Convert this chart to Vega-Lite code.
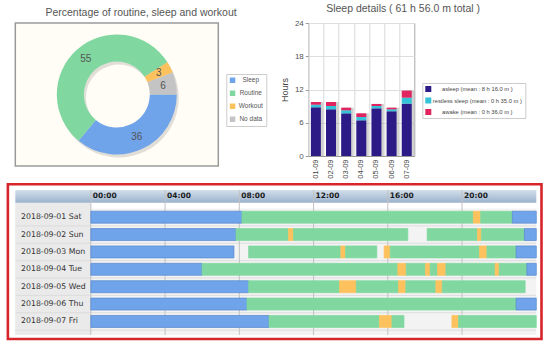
{
  "$schema": "https://vega.github.io/schema/vega-lite/v6.json",
  "background": "#ffffff",
  "padding": {"left": 6.3, "top": 3, "right": 4, "bottom": 2},
  "bounds": "flush",
  "spacing": 293,
  "config": {"view": {"stroke": null}, "font": "Liberation Sans"},
  "resolve": {"scale": {"color": "independent", "x": "independent", "y": "independent"}, "legend": {"color": "independent"}},
  "datasets": {
    "donut": [
      {"cat": "Sleep", "pct": 36, "o": 1},
      {"cat": "Routine", "pct": 55, "o": 2},
      {"cat": "Workout", "pct": 3, "o": 3},
      {"cat": "No data", "pct": 6, "o": 4}
    ],
    "sleep": [
      {"date": "01-09", "stage": "asleep", "o": 1, "hrs": 8.79},
      {"date": "01-09", "stage": "restless sleep", "o": 2, "hrs": 0.47},
      {"date": "01-09", "stage": "awake", "o": 3, "hrs": 0.49},
      {"date": "02-09", "stage": "asleep", "o": 1, "hrs": 8.43},
      {"date": "02-09", "stage": "restless sleep", "o": 2, "hrs": 0.59},
      {"date": "02-09", "stage": "awake", "o": 3, "hrs": 0.73},
      {"date": "03-09", "stage": "asleep", "o": 1, "hrs": 7.70},
      {"date": "03-09", "stage": "restless sleep", "o": 2, "hrs": 0.55},
      {"date": "03-09", "stage": "awake", "o": 3, "hrs": 0.47},
      {"date": "04-09", "stage": "asleep", "o": 1, "hrs": 6.44},
      {"date": "04-09", "stage": "restless sleep", "o": 2, "hrs": 0.60},
      {"date": "04-09", "stage": "awake", "o": 3, "hrs": 0.66},
      {"date": "05-09", "stage": "asleep", "o": 1, "hrs": 8.60},
      {"date": "05-09", "stage": "restless sleep", "o": 2, "hrs": 0.42},
      {"date": "05-09", "stage": "awake", "o": 3, "hrs": 0.37},
      {"date": "06-09", "stage": "asleep", "o": 1, "hrs": 8.07},
      {"date": "06-09", "stage": "restless sleep", "o": 2, "hrs": 0.36},
      {"date": "06-09", "stage": "awake", "o": 3, "hrs": 0.29},
      {"date": "07-09", "stage": "asleep", "o": 1, "hrs": 9.44},
      {"date": "07-09", "stage": "restless sleep", "o": 2, "hrs": 1.09},
      {"date": "07-09", "stage": "awake", "o": 3, "hrs": 1.27}
    ],
    "days": [
      {"d": 1, "day": "2018-09-01 Sat"},
      {"d": 2, "day": "2018-09-02 Sun"},
      {"d": 3, "day": "2018-09-03 Mon"},
      {"d": 4, "day": "2018-09-04 Tue"},
      {"d": 5, "day": "2018-09-05 Wed"},
      {"d": 6, "day": "2018-09-06 Thu"},
      {"d": 7, "day": "2018-09-07 Fri"}
    ],
    "hours": [
      {"h": 0, "lab": "00:00"},
      {"h": 4, "lab": "04:00"},
      {"h": 8, "lab": "08:00"},
      {"h": 12, "lab": "12:00"},
      {"h": 16, "lab": "16:00"},
      {"h": 20, "lab": "20:00"}
    ],
    "segs": [
      {"d": 1, "s": 0, "e": 8.14, "act": "Sleep"},
      {"d": 1, "s": 8.14, "e": 20.61, "act": "Routine"},
      {"d": 1, "s": 20.61, "e": 21.0, "act": "Workout"},
      {"d": 1, "s": 21.0, "e": 22.71, "act": "Routine"},
      {"d": 1, "s": 22.71, "e": 24, "act": "Sleep"},
      {"d": 2, "s": 0, "e": 7.82, "act": "Sleep"},
      {"d": 2, "s": 7.82, "e": 10.65, "act": "Routine"},
      {"d": 2, "s": 10.65, "e": 10.92, "act": "Workout"},
      {"d": 2, "s": 10.92, "e": 17.08, "act": "Routine"},
      {"d": 2, "s": 18.12, "e": 20.83, "act": "Routine"},
      {"d": 2, "s": 20.83, "e": 21.04, "act": "Workout"},
      {"d": 2, "s": 21.04, "e": 23.36, "act": "Routine"},
      {"d": 2, "s": 23.36, "e": 24, "act": "Sleep"},
      {"d": 3, "s": 0, "e": 7.71, "act": "Sleep"},
      {"d": 3, "s": 8.5, "e": 13.47, "act": "Routine"},
      {"d": 3, "s": 13.47, "e": 13.72, "act": "Workout"},
      {"d": 3, "s": 13.72, "e": 15.41, "act": "Routine"},
      {"d": 3, "s": 15.8, "e": 16.13, "act": "Workout"},
      {"d": 3, "s": 16.13, "e": 20.94, "act": "Routine"},
      {"d": 3, "s": 20.94, "e": 21.34, "act": "Workout"},
      {"d": 3, "s": 21.34, "e": 22.91, "act": "Routine"},
      {"d": 3, "s": 22.91, "e": 24, "act": "Sleep"},
      {"d": 4, "s": 0, "e": 5.99, "act": "Sleep"},
      {"d": 4, "s": 5.99, "e": 16.54, "act": "Routine"},
      {"d": 4, "s": 16.54, "e": 16.99, "act": "Workout"},
      {"d": 4, "s": 16.99, "e": 18.03, "act": "Routine"},
      {"d": 4, "s": 18.03, "e": 18.28, "act": "Workout"},
      {"d": 4, "s": 18.28, "e": 18.68, "act": "Routine"},
      {"d": 4, "s": 18.68, "e": 19.13, "act": "Workout"},
      {"d": 4, "s": 19.13, "e": 21.78, "act": "Routine"},
      {"d": 4, "s": 21.78, "e": 22.0, "act": "Workout"},
      {"d": 4, "s": 22.0, "e": 23.49, "act": "Routine"},
      {"d": 4, "s": 23.49, "e": 24, "act": "Sleep"},
      {"d": 5, "s": 0, "e": 8.5, "act": "Sleep"},
      {"d": 5, "s": 8.5, "e": 13.4, "act": "Routine"},
      {"d": 5, "s": 13.4, "e": 14.3, "act": "Workout"},
      {"d": 5, "s": 14.3, "e": 16.58, "act": "Routine"},
      {"d": 5, "s": 16.58, "e": 16.97, "act": "Workout"},
      {"d": 5, "s": 16.97, "e": 18.59, "act": "Routine"},
      {"d": 5, "s": 18.59, "e": 18.93, "act": "Workout"},
      {"d": 5, "s": 18.93, "e": 23.4, "act": "Routine"},
      {"d": 6, "s": 0, "e": 8.41, "act": "Sleep"},
      {"d": 6, "s": 8.41, "e": 22.91, "act": "Routine"},
      {"d": 6, "s": 22.91, "e": 24, "act": "Sleep"},
      {"d": 7, "s": 0, "e": 9.6, "act": "Sleep"},
      {"d": 7, "s": 9.6, "e": 15.55, "act": "Routine"},
      {"d": 7, "s": 15.55, "e": 16.22, "act": "Workout"},
      {"d": 7, "s": 16.22, "e": 16.87, "act": "Routine"},
      {"d": 7, "s": 19.45, "e": 19.81, "act": "Workout"},
      {"d": 7, "s": 19.81, "e": 24, "act": "Routine"}
    ]
  },
  "hconcat": [
    {
      "bounds": "flush",
      "spacing": 24,
      "resolve": {"scale": {"color": "independent", "x": "independent", "y": "independent"}, "legend": {"color": "independent"}},
      "vconcat": [
        {
          "width": 203,
          "height": 143,
          "title": {"text": "Percentage of routine, sleep and workout", "fontSize": 10.5, "fontWeight": "normal", "color": "#555555", "font": "Liberation Sans", "frame": "bounds", "anchor": "middle", "offset": 5},
          "view": {"fill": "#fffdf5", "stroke": "#9a9a9a", "strokeWidth": 1.5},
          "data": {"name": "donut"},
          "encoding": {
            "theta": {"field": "pct", "type": "quantitative", "stack": true, "scale": {"range": [1.5708, 7.854]}},
            "order": {"field": "o", "type": "quantitative"},
            "color": {
              "field": "cat", "type": "nominal",
              "scale": {"domain": ["Sleep", "Routine", "Workout", "No data"], "range": ["#6fa3ea", "#80d8a0", "#fdc25e", "#c4c4c4"]},
              "legend": {"title": null, "orient": "none", "legendX": 211, "legendY": 51, "symbolType": "square", "symbolSize": 30, "symbolStrokeWidth": 0, "labelFontSize": 6.5, "labelColor": "#555555", "labelAlign": "center", "labelOffset": 15, "padding": 3, "rowPadding": 6, "strokeColor": "#cccccc", "fillColor": "#ffffff"}
            }
          },
          "layer": [
            {"mark": {"type": "arc", "innerRadius": 33, "outerRadius": 60, "xOffset": 2, "yOffset": 3, "opacity": 0.18}, "encoding": {"color": {"value": "#555555"}}},
            {"mark": {"type": "arc", "innerRadius": 33, "outerRadius": 60}},
            {"mark": {"type": "text", "radius": 47, "fontSize": 10, "font": "Liberation Sans"}, "encoding": {"text": {"field": "pct", "type": "quantitative"}, "color": {"value": "#555555"}}}
          ]
        },
        {
          "width": 521,
          "height": 145,
          "layer": [
            {
              "data": {"values": [{}]},
              "mark": {"type": "rect", "fill": "#f3f3f3"},
              "encoding": {
                "x": {"datum": -4.07, "type": "quantitative", "scale": {"domain": [-4.07, 24], "nice": false, "zero": false, "padding": 0}, "axis": null},
                "x2": {"datum": 24},
                "y": {"datum": 0.5, "type": "quantitative", "scale": {"domain": [-0.564, 7.78], "nice": false, "zero": false, "reverse": true, "padding": 0}, "axis": null},
                "y2": {"datum": 7.78}
              }
            },
            {
              "data": {"values": [{}]},
              "mark": {"type": "rect", "fill": "#eaeaea"},
              "encoding": {
                "x": {"datum": -4.07, "type": "quantitative"},
                "x2": {"datum": 0},
                "y": {"datum": 0.17, "type": "quantitative"},
                "y2": {"datum": 7.78}
              }
            },
            {
              "data": {"name": "days"},
              "mark": {"type": "rule", "stroke": "#dcdcdc", "strokeWidth": 1, "yOffset": 8.69},
              "encoding": {
                "x": {"datum": -4.07, "type": "quantitative"},
                "x2": {"datum": 24},
                "y": {"field": "d", "type": "quantitative"}
              }
            },
            {
              "data": {"values": [{}]},
              "mark": {"type": "rect", "fill": {"gradient": "linear", "x1": 0, "y1": 0, "x2": 0, "y2": 1, "stops": [{"offset": 0, "color": "#d3dfeb"}, {"offset": 1, "color": "#9bb2cc"}]}},
              "encoding": {
                "x": {"datum": -4.07, "type": "quantitative"},
                "x2": {"datum": 24},
                "y": {"datum": -0.564, "type": "quantitative"},
                "y2": {"datum": 0.17}
              }
            },
            {
              "data": {"name": "hours"},
              "mark": {"type": "rule", "stroke": "#c2c2c2", "strokeWidth": 1},
              "encoding": {
                "x": {"field": "h", "type": "quantitative"},
                "y": {"datum": -0.564, "type": "quantitative"},
                "y2": {"datum": 7.78}
              }
            },
            {
              "data": {"name": "hours"},
              "mark": {"type": "text", "align": "left", "baseline": "middle", "dx": 2, "font": "DejaVu Sans", "fontSize": 7.5, "fontWeight": "bold", "color": "#1a1a1a"},
              "encoding": {
                "x": {"field": "h", "type": "quantitative"},
                "y": {"datum": -0.2, "type": "quantitative"},
                "text": {"field": "lab", "type": "nominal"}
              }
            },
            {
              "data": {"name": "days"},
              "mark": {"type": "text", "align": "left", "baseline": "middle", "font": "DejaVu Sans", "fontSize": 7.8, "color": "#333333"},
              "encoding": {
                "x": {"datum": -3.76, "type": "quantitative"},
                "y": {"field": "d", "type": "quantitative"},
                "text": {"field": "day", "type": "nominal"}
              }
            },
            {
              "data": {"name": "segs"},
              "mark": {"type": "bar", "height": 12, "strokeWidth": 0.7},
              "encoding": {
                "x": {"field": "s", "type": "quantitative"},
                "x2": {"field": "e"},
                "y": {"field": "d", "type": "quantitative"},
                "color": {"field": "act", "type": "nominal", "scale": {"domain": ["Sleep", "Routine", "Workout"], "range": ["#6fa3ea", "#80d8a0", "#fdc25e"]}, "legend": null},
                "stroke": {"field": "act", "type": "nominal", "scale": {"domain": ["Sleep", "Routine", "Workout"], "range": ["#5687cf", "#80d8a0", "#fdc25e"]}, "legend": null}
              }
            },
            {
              "data": {"values": [{}]},
              "mark": {"type": "rect", "fill": null, "fillOpacity": 0, "stroke": "#d7252c", "strokeWidth": 2.6},
              "encoding": {
                "x": {"datum": -4.47, "type": "quantitative"},
                "x2": {"datum": 24.28},
                "y": {"datum": -0.898, "type": "quantitative"},
                "y2": {"datum": 8.01}
              }
            }
          ]
        }
      ]
    },
    {
      "width": 106,
      "height": 133,
      "title": {"text": "Sleep details ( 61 h 56.0 m total )", "fontSize": 10.5, "fontWeight": "normal", "color": "#555555", "font": "Liberation Sans", "frame": "bounds", "anchor": "middle", "offset": 5},
      "view": {"fill": "#ffffff", "stroke": "#a8a8a8"},
      "data": {"name": "sleep"},
      "encoding": {
        "x": {"field": "date", "type": "nominal", "sort": null, "scale": {"paddingInner": 0.34, "paddingOuter": 0.17},
          "axis": {"title": null, "labelAngle": -90, "labelFontSize": 7.5, "labelColor": "#444444", "ticks": false, "grid": true, "gridColor": "#d9d9d9", "bandPosition": -0.2, "domainColor": "#999999", "labelPadding": 3}}
      },
      "layer": [
        {
          "mark": {"type": "bar", "color": "#9a9a9a", "opacity": 0.45, "xOffset": 2.5},
          "encoding": {
            "y": {"aggregate": "sum", "field": "hrs", "type": "quantitative", "scale": {"domain": [0, 24], "nice": false},
              "axis": {"title": "Hours", "values": [0, 6, 12, 18, 24], "grid": true, "gridColor": "#dddddd", "labelFontSize": 8, "labelColor": "#555555", "titleFontSize": 9, "titleFontWeight": "normal", "titleColor": "#444444", "domain": false, "tickSize": 3, "tickColor": "#999999", "labelPadding": 2, "titlePadding": 5}}
          }
        },
        {
          "mark": {"type": "bar"},
          "encoding": {
            "y": {"field": "hrs", "type": "quantitative", "stack": "zero", "scale": {"domain": [0, 24], "nice": false},
              "axis": {"title": "Hours", "values": [0, 6, 12, 18, 24], "grid": true, "gridColor": "#dddddd", "labelFontSize": 8, "labelColor": "#555555", "titleFontSize": 9, "titleFontWeight": "normal", "titleColor": "#444444", "domain": false, "tickSize": 3, "tickColor": "#999999", "labelPadding": 2, "titlePadding": 5}},
            "order": {"field": "o", "type": "quantitative"},
            "color": {
              "field": "stage", "type": "nominal",
              "scale": {"domain": ["asleep", "restless sleep", "awake"], "range": ["#2c1b87", "#35c3d9", "#e0245f"]},
              "legend": {"title": null, "orient": "none", "legendX": 114, "legendY": 60, "symbolType": "square", "symbolSize": 36, "symbolStrokeWidth": 0, "labelFontSize": 5.8, "labelColor": "#444444", "labelAlign": "center", "labelOffset": 46, "padding": 3, "rowPadding": 5.5, "strokeColor": "#cccccc", "fillColor": "#ffffff",
                "labelExpr": "datum.label == 'asleep' ? 'asleep (mean : 8 h 16.0 m )' : datum.label == 'awake' ? 'awake (mean : 0 h 36.0 m )' : 'restless sleep (mean : 0 h 35.0 m )'"}
            }
          }
        }
      ]
    }
  ]
}
